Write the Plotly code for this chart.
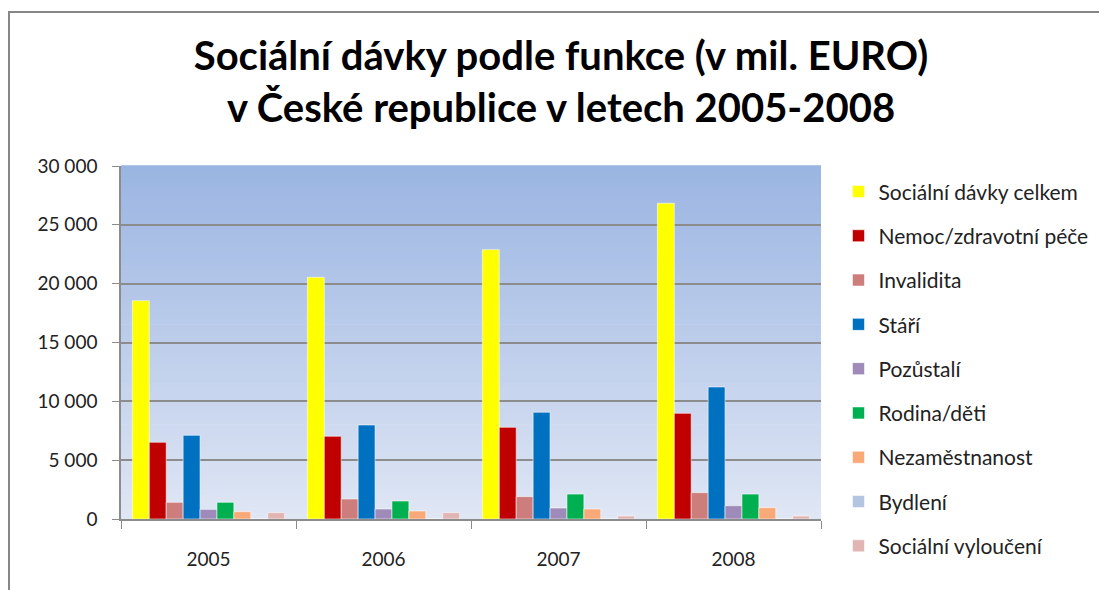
import plotly.graph_objects as go

years = ["2005", "2006", "2007", "2008"]

# values in mil. EURO
celkem = [18550, 20540, 22890, 26830]
nemoc = [6520, 7030, 7790, 8980]
invalidita = [1420, 1700, 1900, 2240]
stari = [7110, 7990, 9070, 11220]
pozustali = [820, 850, 935, 1130]
rodina = [1420, 1530, 2120, 2120]
nezamestnanost = [620, 680, 850, 960]
bydleni = [0, 0, 0, 0]
vylouceni = [540, 540, 255, 255]

series = [
    ("Sociální dávky celkem", celkem, "#FFFF00"),
    ("Nemoc/zdravotní péče", nemoc, "#C00000"),
    ("Invalidita", invalidita, "#CD7D7C"),
    ("Stáří", stari, "#0070C0"),
    ("Pozůstalí", pozustali, "#9E8BB9"),
    ("Rodina/děti", rodina, "#00B050"),
    ("Nezaměstnanost", nezamestnanost, "#F9A877"),
    ("Bydlení", bydleni, "#B4C5E0"),
    ("Sociální vyloučení", vylouceni, "#E0B5B4"),
]

FONT = "Lato, 'Open Sans', sans-serif"

# plot area in figure pixels (page has an 8px body margin)
L, T, W, H = 113, 158, 700, 353

fig = go.Figure()
for i, (name, vals, color) in enumerate(series):
    fig.add_trace(go.Bar(
        x=years, y=vals, name=name,
        legendgroup=str(i),
        marker=dict(color=color, line=dict(color="rgba(255,255,255,0.55)", width=1)),
    ))

# gradient background of the plot area (Excel style)
top = (155, 181, 226)
bot = (223, 230, 244)
n = 60
shapes = []
for k in range(n):
    t = k / (n - 1)
    c = tuple(int(round(top[j] + (bot[j] - top[j]) * t)) for j in range(3))
    shapes.append(dict(
        type="rect", xref="x domain", yref="y domain",
        x0=0, x1=1, y0=1 - (k + 1) / n, y1=1 - k / n + 0.002,
        fillcolor="rgb(%d,%d,%d)" % c, line=dict(width=0), layer="below",
    ))
# outer chart frame
shapes.append(dict(
    type="rect", xref="paper", yref="paper",
    x0=(1 - L) / W, x1=(1150 - L) / W,
    y0=(T + H - 700) / H, y1=(T + H - 4) / H,
    line=dict(color="#868686", width=2), fillcolor="rgba(0,0,0,0)",
))

fig.update_layout(
    width=1107, height=590,
    margin=dict(l=L, r=1107 - L - W, t=T, b=590 - T - H),
    paper_bgcolor="white",
    plot_bgcolor="rgba(0,0,0,0)",
    separators=", ",
    font=dict(family=FONT, size=18, color="#222222"),
    title=dict(
        text="<b>Sociální dávky podle funkce (v mil. EURO)<br>v České republice v letech 2005-2008</b>",
        x=553 / 1107, xanchor="center", y=0.895, yanchor="top",
        font=dict(family=FONT, size=40, color="black"),
    ),
    barmode="group", bargap=0.13, bargroupgap=0,
    legend=dict(
        x=1.025, xanchor="left", y=0.985, yanchor="top",
        font=dict(family=FONT, size=21, color="#222222"),
        tracegroupgap=14, traceorder="grouped",
        maxheight=600,
        bgcolor="rgba(0,0,0,0)",
    ),
    shapes=shapes,
)

fig.update_yaxes(
    range=[0, 30000], dtick=5000, tickformat=",d",
    showgrid=True, gridcolor="#8c8c8c", gridwidth=1.5,
    showline=True, linecolor="#8c8c8c", linewidth=1.5,
    ticks="outside", ticklen=7, tickcolor="#8c8c8c",
    ticklabelstandoff=11, zeroline=False,
    tickfont=dict(family=FONT, size=19, color="#222222"),
)
fig.update_xaxes(
    type="category", tickson="boundaries",
    showline=True, linecolor="#8c8c8c", linewidth=1.5,
    ticks="outside", ticklen=8, tickcolor="#8c8c8c",
    showgrid=False,
    tickfont=dict(family=FONT, size=19, color="#222222"),
    ticklabelstandoff=22,
)

fig.write_html("out.html")
